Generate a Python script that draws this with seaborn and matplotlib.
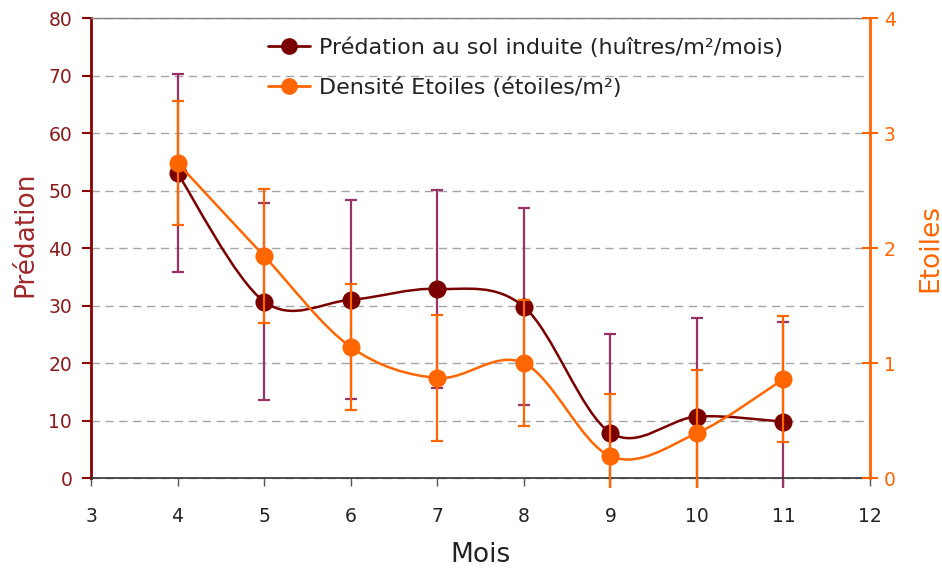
import numpy as np
import matplotlib
matplotlib.use('Agg')
import matplotlib.pyplot as plt
from matplotlib.path import Path
from matplotlib.patches import PathPatch
from matplotlib.lines import Line2D
import seaborn as sns

# Données
mois = [4, 5, 6, 7, 8, 9, 10, 11]
predation = [53.0, 30.7, 31.0, 32.9, 29.8, 7.9, 10.7, 9.8]
predation_err = [17.2, 17.2, 17.3, 17.2, 17.1, 17.1, 17.1, 17.4]
etoiles = [2.74, 1.93, 1.14, 0.87, 1.00, 0.19, 0.39, 0.86]
etoiles_err = [0.54, 0.58, 0.55, 0.55, 0.55, 0.54, 0.55, 0.55]

label_pred = 'Prédation au sol induite (huîtres/m²/mois)'
label_etoiles = 'Densité Etoiles (étoiles/m²)'

DARK_RED = '#7A0000'
ERR_PURPLE = '#993366'
ORANGE = '#FF6600'

sns.set_style('white')
plt.rcParams['font.family'] = ['DejaVu Sans']


def smooth_path(x, y):
    # courbe lissée type Excel (Catmull-Rom -> Bezier)
    pts = np.column_stack([np.asarray(x, float), np.asarray(y, float)])
    p = np.vstack([pts[0], pts, pts[-1]])
    verts = [pts[0]]
    codes = [Path.MOVETO]
    for i in range(1, len(p) - 2):
        c1 = p[i] + (p[i + 1] - p[i - 1]) / 6
        c2 = p[i + 1] - (p[i + 2] - p[i]) / 6
        verts += [c1, c2, p[i + 1]]
        codes += [Path.CURVE4] * 3
    return Path(verts, codes)


fig = plt.figure(figsize=(9.42, 5.72), dpi=100)
ax = fig.add_axes([91 / 942, 1 - 488.4 / 572, 779 / 942, 470.4 / 572])
ax2 = ax.twinx()

# Axe gauche : prédation
ax.set_xlim(3, 12)
ax.set_ylim(-1.8, 80)
ax.set_xticks(range(3, 13))
ax.set_yticks(range(0, 81, 10))
ax.yaxis.grid(True, linestyle=(0, (6, 4)), color='#A6A6A6', lw=1)
ax.xaxis.grid(False)

ax.errorbar(mois, predation, yerr=predation_err, fmt='none', ecolor=ERR_PURPLE,
            elinewidth=1.6, capsize=4.5, capthick=1.6, zorder=2)
ax.add_patch(PathPatch(smooth_path(mois, predation), fill=False,
                       edgecolor=DARK_RED, lw=1.8, zorder=3))
sns.scatterplot(x=mois, y=predation, ax=ax, s=170, color=DARK_RED,
                linewidth=0, zorder=4, legend=False)

# Axe droit : étoiles
ax2.set_ylim(-0.09, 4)
ax2.set_yticks(range(0, 5))
ax2.grid(False)
ax2.errorbar(mois, etoiles, yerr=etoiles_err, fmt='none', ecolor=ORANGE,
             elinewidth=1.6, capsize=4.5, capthick=1.6, zorder=2)
ax2.add_patch(PathPatch(smooth_path(mois, etoiles), fill=False,
                        edgecolor=ORANGE, lw=1.8, zorder=3))
sns.scatterplot(x=mois, y=etoiles, ax=ax2, s=170, color=ORANGE,
                linewidth=0, zorder=4, legend=False)

# Spines
ax.spines['bottom'].set_position(('data', 0))
ax.spines['bottom'].set_color('#333333')
ax.spines['bottom'].set_linewidth(1.2)
ax.spines['left'].set_bounds(0, 80)
ax.spines['left'].set_color('#8B0000')
ax.spines['left'].set_linewidth(2)
ax.spines['top'].set_color('#808080')
ax.spines['top'].set_linewidth(1)
ax.spines['right'].set_visible(False)
for s in ['left', 'top', 'bottom']:
    ax2.spines[s].set_visible(False)
ax2.spines['right'].set_bounds(0, 4)
ax2.spines['right'].set_color(ORANGE)
ax2.spines['right'].set_linewidth(2)

# Ticks
ax.tick_params(axis='x', bottom=True, direction='out', length=6, width=1,
               color='#555555', labelcolor='#222222', labelsize=13.5, pad=15)
ax.tick_params(axis='y', left=True, direction='out', length=6.5, width=1.5,
               color='#8B0000', labelcolor='#8B1A1A', labelsize=13.5, pad=7)
ax2.tick_params(axis='y', right=True, direction='inout', length=12, width=1.5,
                color=ORANGE, labelcolor=ORANGE, labelsize=13.5, pad=4)

# Titres des axes
ax.set_xlabel('Mois', fontsize=19, color='#222222', va='center')
ax.xaxis.set_label_coords(0.5, -0.1416)
ax.set_ylabel('Prédation', fontsize=19, color='#A0282A', va='center')
ax.yaxis.set_label_coords(-0.0847, 0.541)
ax2.set_ylabel('Etoiles', fontsize=19, color=ORANGE, va='center')
ax2.yaxis.set_label_coords(1.077, 0.511)

# Légende
handles = [
    Line2D([0], [0], color=DARK_RED, lw=2, marker='o', markersize=11),
    Line2D([0], [0], color=ORANGE, lw=2, marker='o', markersize=11),
]
ax2.legend(handles, [label_pred, label_etoiles], loc='upper left',
           bbox_to_anchor=(0.227, 0.958), frameon=False, fontsize=16,
           borderpad=0, borderaxespad=0, handlelength=1.9, handletextpad=0.42,
           labelspacing=0.85, labelcolor='#222222')

fig.savefig('out.png', dpi=100)
